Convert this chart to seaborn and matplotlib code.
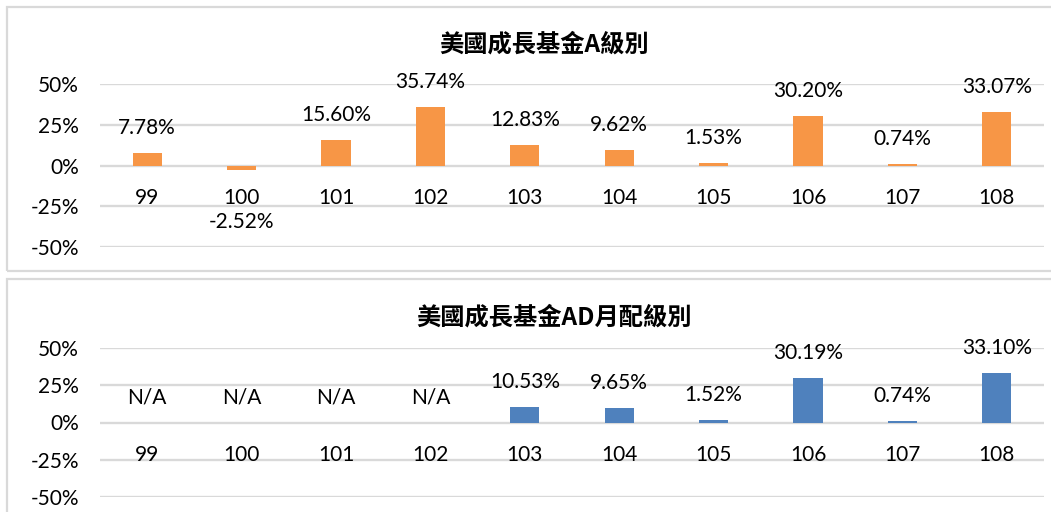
import numpy as np
import pandas as pd
import matplotlib.pyplot as plt
from matplotlib.patches import Rectangle
import seaborn as sns

sns.set_theme(style="white")
plt.rcParams["font.family"] = ["Lato", "Noto Sans CJK TC", "DejaVu Sans"]

years = ["99", "100", "101", "102", "103", "104", "105", "106", "107", "108"]
class_a = [7.78, -2.52, 15.60, 35.74, 12.83, 9.62, 1.53, 30.20, 0.74, 33.07]
class_ad = [np.nan, np.nan, np.nan, np.nan, 10.53, 9.65, 1.52, 30.19, 0.74, 33.10]
titles = ["美國成長基金A級別", "美國成長基金AD月配級別"]
colors = ["#F79646", "#4F81BD"]
yticks = [-50, -25, 0, 25, 50]

fig = plt.figure(figsize=(10.51, 5.12), dpi=100)
W, H = 1051, 512

# panel frames (pixel coords -> figure fraction)
for (x0, y0, x1, y1) in [(7, 7, 1060, 271), (7, 279, 1060, 530)]:
    fig.patches.append(Rectangle((x0 / W, 1 - y1 / H), (x1 - x0) / W, (y1 - y0) / H,
                                 transform=fig.transFigure, fill=False,
                                 edgecolor="#d9d9d9", linewidth=1.6))

# axes boxes: left, -50% line, right, 50% line (pixels)
boxes = [(100, 247, 1044, 84), (100, 497, 1044, 348)]
title_y = [45, 318]
fs = 15

for k, vals in enumerate([class_a, class_ad]):
    l, b, r, t = boxes[k]
    ax = fig.add_axes([l / W, 1 - b / H, (r - l) / W, (b - t) / H])
    df = pd.DataFrame({"year": years, "ret": vals})
    sns.barplot(data=df, x="year", y="ret", order=years, color=colors[k],
                width=0.31, linewidth=0, saturation=1, ax=ax)
    ax.set_ylim(-50, 50)
    ax.set_xlim(-0.5, len(years) - 0.5)
    ax.set_yticks(yticks)
    ax.set_yticklabels([f"{v}%" for v in yticks])
    # gridlines under the text
    for v in yticks:
        ax.axhline(v, color="#d9d9d9", linewidth=1.7, zorder=0.5)
    ax.grid(False)
    for s in ax.spines.values():
        s.set_visible(False)
    ax.spines["bottom"].set_position(("data", 0))
    ax.tick_params(axis="y", length=0, pad=15, labelsize=fs, labelcolor="#000000")
    ax.tick_params(axis="x", length=0, pad=16, labelsize=fs, labelcolor="#000000")
    ax.set_xlabel("")
    ax.set_ylabel("")
    for i, v in enumerate(vals):
        if np.isnan(v):
            txt, yv, off = "N/A", 0, 18
        elif v < 0:
            txt, yv, off = f"{v:.2f}%", v, -38
        else:
            txt, yv, off = f"{v:.2f}%", v, 18
        ax.annotate(txt, (i, yv), xytext=(0, off), textcoords="offset points",
                    ha="center", va="center", fontsize=fs, color="#000000")
    fig.text(0.518 if k == 0 else 0.527, 1 - title_y[k] / H, titles[k],
             ha="center", va="center", fontsize=17.5, fontweight="bold",
             family=["Noto Sans CJK TC", "DejaVu Sans"], color="#000000")

fig.savefig("out.png", dpi=100)
